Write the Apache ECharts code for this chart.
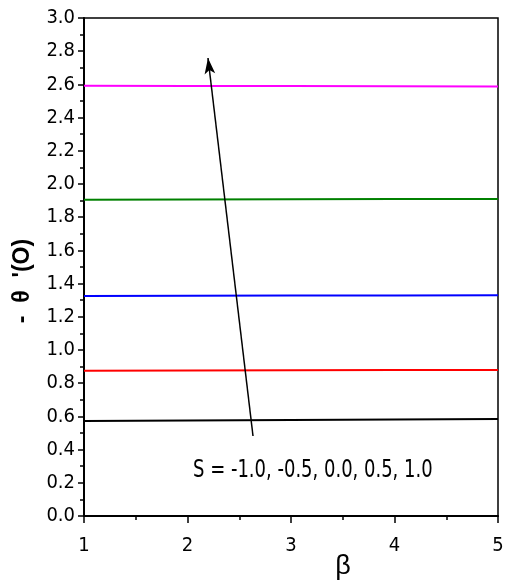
<!DOCTYPE html>
<html>
<head>
<meta charset="utf-8">
<script src="https://cdn.jsdelivr.net/npm/echarts@6/dist/echarts.min.js"></script>
<style>html,body{margin:0;padding:0;background:#fff}#c{width:506px;height:586px}</style>
</head>
<body>
<div id="c"></div>
<script>
// Heat-transfer gradient -θ'(0) against β for several values of S
const betaValues = [1, 2, 3, 4, 5];
const sLabels = ['-1.0', '-0.5', '0.0', '0.5', '1.0'];
const sColors = ['#000000', '#ff0000', '#0000ff', '#008000', '#ff00ff'];
const thetaS_m10 = [0.572, 0.575, 0.578, 0.581, 0.584];
const thetaS_m05 = [0.875, 0.877, 0.878, 0.879, 0.880];
const thetaS_00  = [1.325, 1.327, 1.328, 1.329, 1.330];
const thetaS_05  = [1.905, 1.907, 1.908, 1.909, 1.910];
const thetaS_10  = [2.592, 2.591, 2.590, 2.589, 2.587];
const seriesValues = [thetaS_m10, thetaS_m05, thetaS_00, thetaS_05, thetaS_10];
// Arrow showing the direction of increasing S
const arrowFrom = [2.633, 0.482];
const arrowTo = [2.198, 2.759];
const noteText = 'S = -1.0, -0.5, 0.0, 0.5, 1.0';

const FONT = "'Liberation Sans Narrow','DejaVu Sans Condensed','Liberation Sans',sans-serif";

const chart = echarts.init(document.getElementById('c'));
const series = seriesValues.map((vals, i) => ({
  name: 'S = ' + sLabels[i],
  type: 'line',
  data: vals.map((v, j) => [betaValues[j], v]),
  symbol: 'none',
  lineStyle: { color: sColors[i], width: 2 },
  z: 3
}));
series.push({
  type: 'line',
  data: [],
  markLine: {
    silent: true,
    symbol: ['none', 'arrow'],
    symbolSize: [8, 16],
    label: { show: false },
    lineStyle: { color: '#000', width: 1.5, type: 'solid' },
    data: [[{ coord: arrowFrom }, { coord: arrowTo }]]
  }
});

chart.setOption({
  backgroundColor: '#fff',
  animation: false,
  grid: {
    left: 84, right: 8, top: 18, bottom: 70, outerBoundsMode: 'none', containLabel: false,
    show: true, borderColor: '#000', borderWidth: 1.5, backgroundColor: 'transparent'
  },
  xAxis: {
    type: 'value', min: 1, max: 5, interval: 1,
    name: 'β', nameLocation: 'middle', nameGap: 37, nameMoveOverlap: false,
    nameTextStyle: { fontFamily: "'Liberation Sans',sans-serif", fontSize: 27, color: '#000', padding: [0, 0, 0, 104] },
    axisLine: { show: true, lineStyle: { color: '#000', width: 2 } },
    axisTick: { show: true, inside: false, length: 7, lineStyle: { color: '#000', width: 1.5 } },
    minorTick: { show: true, splitNumber: 2, length: 4, lineStyle: { color: '#000', width: 1.5 } },
    axisLabel: { fontFamily: FONT, fontSize: 20, color: '#000', margin: 20 },
    splitLine: { show: false }
  },
  yAxis: {
    type: 'value', min: 0, max: 3, interval: 0.2,
    name: "-  θ  '(O)", nameLocation: 'middle', nameGap: 50, nameRotate: 90, nameMoveOverlap: false,
    nameTextStyle: { fontFamily: "'Liberation Sans','Arial',sans-serif", fontSize: 23, fontWeight: 'bold', color: '#000', padding: [0, 28, 0, 0] },
    axisLine: { show: true, lineStyle: { color: '#000', width: 2 } },
    axisTick: { show: true, inside: false, length: 6, lineStyle: { color: '#000', width: 1.5 } },
    minorTick: { show: true, splitNumber: 2, length: 4, lineStyle: { color: '#000', width: 1.5 } },
    axisLabel: { fontFamily: FONT, fontSize: 20, color: '#000', margin: 9, formatter: v => v.toFixed(1) },
    splitLine: { show: false }
  },
  graphic: [{
    type: 'text', x: 193, y: 470, scaleY: 1.25,
    style: { x: 0, y: 0, text: noteText, font: "20px " + FONT, fill: '#000', verticalAlign: 'middle' }
  }],
  series: series
});
</script>
</body>
</html>
